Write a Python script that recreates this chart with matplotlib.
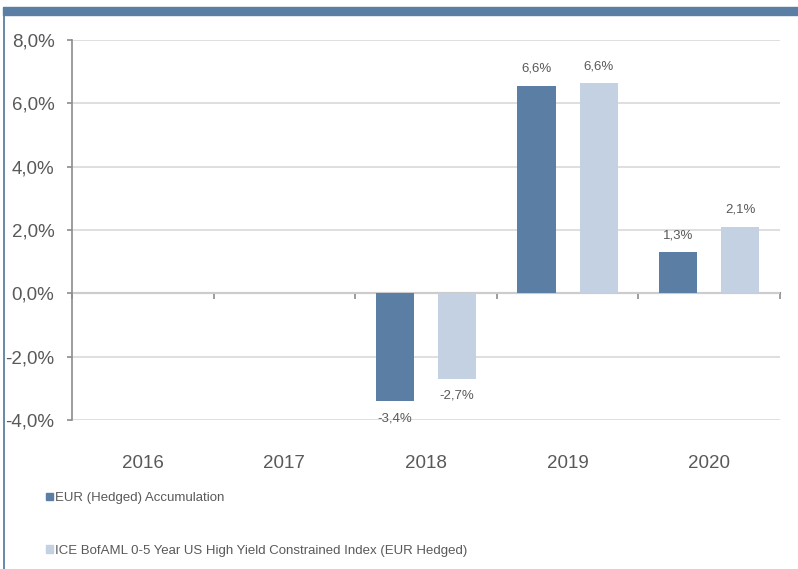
import numpy as np
import matplotlib
matplotlib.use('Agg')
from matplotlib import pyplot as plt
from matplotlib.patches import Patch, Rectangle
from matplotlib.lines import Line2D

years = ['2016', '2017', '2018', '2019', '2020']
fund = [np.nan, np.nan, -3.4, 6.55, 1.3]
index = [np.nan, np.nan, -2.7, 6.63, 2.1]
fund_labels = ['', '', '-3,4%', '6,6%', '1,3%']
index_labels = ['', '', '-2,7%', '6,6%', '2,1%']
series_names = ['EUR (Hedged) Accumulation',
                'ICE BofAML 0-5 Year US High Yield Constrained Index (EUR Hedged)']
yticks = [-4, -2, 0, 2, 4, 6, 8]

dark = '#5B7FA4'
light = '#C4D1E3'
txt = '#595959'
axc = '#8C8C8C'

plt.rcParams['font.family'] = ['Liberation Sans', 'DejaVu Sans']

fig = plt.figure(figsize=(7.98, 5.69), dpi=100)
ax = fig.add_axes([0.0902, 0.2619, 0.8872, 0.6678])

x = np.arange(len(years))
w = 0.27
off = 0.22
b1 = ax.bar(x - off, fund, w, color=dark, zorder=3)
b2 = ax.bar(x + off, index, w, color=light, zorder=3)

for bars, labs in ((b1, fund_labels), (b2, index_labels)):
    for rect, lab in zip(bars, labs):
        if not lab:
            continue
        h = rect.get_height()
        cx = rect.get_x() + rect.get_width() / 2
        if h >= 0:
            ax.annotate(lab, (cx, h), xytext=(0, 8), textcoords='offset points',
                        ha='center', va='bottom', fontsize=9.5, color=txt)
        else:
            ax.annotate(lab, (cx, h), xytext=(0, -8), textcoords='offset points',
                        ha='center', va='top', fontsize=9.5, color=txt)

ax.set_xlim(-0.5, len(years) - 0.5)
ax.set_ylim(-4, 8)
ax.set_yticks(yticks)
ax.set_yticklabels([('%.1f%%' % v).replace('.', ',') for v in yticks])
ax.yaxis.grid(True, color='#D9D9D9', linewidth=1.2, zorder=0)
ax.tick_params(axis='y', colors=axc, labelcolor=txt, labelsize=13.5, length=3.6, width=1.2, pad=9)

ax.set_xticks(x)
ax.set_xticklabels(years)
ax.tick_params(axis='x', length=0, labelcolor=txt, labelsize=13.5, pad=25)

for s in ['top', 'right', 'bottom']:
    ax.spines[s].set_visible(False)
ax.spines['left'].set_color(axc)
ax.spines['left'].set_linewidth(1.2)

# zero line with category boundary ticks
sec = ax.secondary_xaxis(4 / 12)
sec.set_xticks(np.arange(len(years) + 1) - 0.5)
sec.set_xticklabels([])
sec.tick_params(axis='x', colors=axc, length=4, width=1.2, direction='out')
sec.spines['bottom'].set_color(axc)
sec.spines['bottom'].set_linewidth(1.5)

handles = [Patch(color=dark), Patch(color=light)]
fig.legend(handles, series_names, loc='upper left', bbox_to_anchor=(0.051, 0.144),
           frameon=False, handlelength=0.5, handleheight=0.5, handletextpad=0.2,
           labelspacing=3.05, borderaxespad=0, prop={'size': 9.5}, labelcolor=txt)

# frame decoration
fig.patches.append(Rectangle((0.004, 1 - 15 / 569), 0.996, 8 / 569, transform=fig.transFigure,
                             color=dark, zorder=5))
fig.lines.append(Line2D([0.005, 0.005], [0, 1 - 8 / 569], transform=fig.transFigure,
                        color=dark, linewidth=1.3))

fig.savefig('out.png', dpi=100)
